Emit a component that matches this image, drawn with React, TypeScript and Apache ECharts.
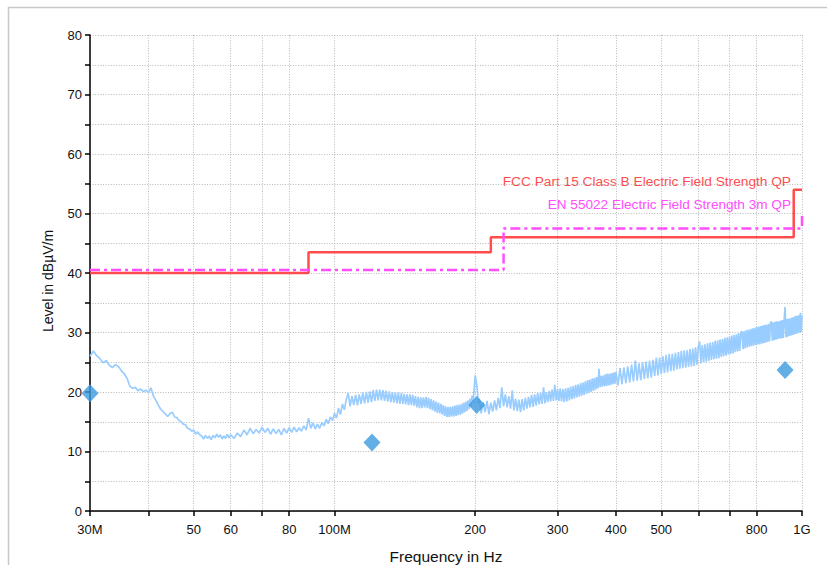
import React, { useEffect, useRef } from "react";
import * as echarts from "echarts";

// ---- Axis ticks / labels (frequencies in MHz) ----
const xTickFreqs = [30, 40, 50, 60, 70, 80, 100, 200, 300, 400, 500, 600, 700, 800, 1000];
const xLabelFreqs = [30, 50, 60, 80, 100, 200, 300, 400, 500, 800, 1000];
const xLabelTexts = ["30M", "50", "60", "80", "100M", "200", "300", "400", "500", "800", "1G"];
const yMin = 0;
const yMax = 80;
const yStep = 5;

// ---- Limit lines: [MHz, dBµV/m] (step after each point) ----
const fccLimit: [number, number][] = [[30, 40], [88, 43.5], [216, 46], [960, 54], [1000, 54]];
const enLimit: [number, number][] = [[30, 40.5], [230, 47.5], [1000, 50]];
const fccName = "FCC Part 15 Class B Electric Field Strength QP";
const enName = "EN 55022 Electric Field Strength 3m QP";

// ---- QP measurement points ----
const qpFreq = [30, 120.3, 201.5, 920];
const qpLevel = [19.8, 11.5, 17.8, 23.7];

// ---- Pre-scan trace [MHz, dBµV/m] ----
const trace30to60: [number, number][] = [
  [30, 26.0], [30.5, 26.9], [31, 26.1], [31.5, 25.6], [32, 24.9], [32.5, 25.3], [33, 24.5], [33.5, 24.1],
  [34, 24.6], [34.5, 24.3], [35, 23.6], [35.5, 23.1], [36, 22.3], [36.5, 21.0], [37, 20.6], [37.5, 20.8],
  [38, 20.2], [38.5, 20.5], [39, 20.1], [39.5, 20.3], [40, 19.9], [40.5, 20.7], [41, 19.3], [41.5, 18.6],
  [42, 17.8], [42.5, 17.1], [43, 16.7], [43.5, 16.3], [44, 15.9], [44.5, 16.4], [45, 16.6], [45.5, 15.8],
  [46, 15.7], [46.5, 15.2], [47, 15.0], [47.5, 14.6], [48, 14.5], [48.5, 13.9], [49, 13.8], [49.5, 13.4],
  [50, 13.6], [50.5, 12.9], [51, 13.3], [51.5, 12.8], [52, 12.6], [52.5, 12.1], [53, 12.7], [53.5, 12.2],
  [54, 12.6], [54.5, 12.0], [55, 12.7], [55.5, 12.3], [56, 12.9], [56.5, 12.4], [57, 12.8], [57.5, 12.1],
  [58, 12.6], [58.5, 12.2], [59, 12.9], [59.5, 12.3], [60, 12.8],
];
const trace60to100: [number, number][] = [
  [61, 12.2], [62, 13.1], [63, 12.5], [64, 13.6], [65, 12.8], [66, 13.9], [67, 13.0], [68, 13.7],
  [69, 13.1], [70, 14.1], [71, 13.2], [72, 13.9], [73, 12.9], [74, 13.8], [75, 13.0], [76, 13.7],
  [77, 12.8], [78, 13.9], [79, 13.1], [80, 14.0], [81, 13.2], [82, 14.1], [83, 13.3], [84, 14.0],
  [85, 13.4], [86, 14.3], [87, 13.6], [88, 15.6], [89, 13.9], [90, 14.8], [91, 13.8], [92, 14.6],
  [93, 13.9], [94, 14.9], [95, 14.3], [96, 15.4], [97, 14.7], [98, 15.8], [99, 15.2], [100, 16.4],
];
const trace100to200: [number, number][] = [
  [101, 15.6], [102, 17.3], [103, 16.2], [104, 18.0], [105, 17.0], [106, 18.8], [107, 19.8], [108, 17.6],
  [109, 19.3], [110, 17.8], [111, 19.5], [112, 17.8], [113, 19.6], [114, 18.0], [115, 19.9], [116, 18.1],
  [117, 20.0], [118, 18.2], [119, 20.1], [120, 18.3], [121, 20.3], [122, 18.5], [123, 20.4], [124, 18.6],
  [125, 20.4], [126, 18.6], [127, 20.3], [128, 18.5], [129, 20.2], [130, 18.4], [131, 20.1], [132, 18.3],
  [133, 20.0], [134, 18.2], [135, 19.9], [136, 18.1], [137, 19.9], [138, 18.0], [139, 19.8], [140, 18.0],
  [141, 19.7], [142, 17.9], [143, 19.6], [144, 17.8], [145, 19.6], [146, 17.8], [147, 19.5], [148, 17.7],
  [149, 19.3], [150, 17.4], [151, 19.2], [152, 17.3], [153, 19.1], [154, 17.3], [155, 19.1], [156, 17.4],
  [157, 19.2], [158, 17.3], [159, 19.0], [160, 17.1], [161, 18.8], [162, 16.9], [163, 18.6], [164, 16.7],
  [165, 18.4], [166, 16.5], [167, 18.2], [168, 16.4], [169, 18.0], [170, 16.2], [171, 17.8], [172, 16.0],
  [173, 17.6], [174, 15.8], [175, 17.5], [176, 15.8], [177, 17.5], [178, 15.9], [179, 17.6], [180, 15.9],
  [181, 17.7], [182, 16.0], [183, 17.8], [184, 16.1], [185, 17.9], [186, 16.2], [187, 18.0], [188, 16.4],
  [189, 18.2], [190, 16.6], [191, 18.4], [192, 16.8], [193, 18.6], [194, 17.1], [195, 18.9], [196, 17.5],
  [197, 19.4], [198, 18.2], [199, 20.6], [200, 22.8],
];
const trace200to400: [number, number][] = [
  [201, 21.8], [202, 20.5], [203, 18.1], [204, 18.9], [206, 16.4], [208, 18.3], [210, 16.6], [212, 18.5],
  [214, 16.3], [216, 18.2], [218, 16.7], [220, 18.6], [222, 16.9], [224, 19.0], [226, 17.3], [228, 20.8],
  [230, 17.6], [232, 19.6], [234, 17.4], [236, 19.3], [238, 17.2], [240, 20.3], [242, 16.9], [244, 18.9],
  [246, 16.8], [248, 18.7], [250, 16.6], [252, 18.8], [254, 16.9], [256, 19.0], [258, 17.2], [260, 19.2],
  [262, 17.4], [264, 19.5], [266, 17.5], [268, 19.6], [270, 17.7], [272, 19.8], [274, 17.9], [276, 19.9],
  [278, 18.0], [280, 20.8], [282, 18.1], [284, 20.0], [286, 18.3], [288, 20.2], [290, 18.4], [292, 20.4],
  [294, 18.5], [296, 21.2], [298, 18.6], [300, 20.5], [302, 18.5], [304, 20.6], [306, 18.4], [308, 20.5],
  [310, 18.3], [312, 20.6], [314, 18.4], [316, 20.7], [318, 18.6], [320, 20.9], [322, 18.8], [324, 21.0],
  [326, 18.9], [328, 21.2], [330, 19.1], [332, 21.3], [334, 19.2], [336, 21.5], [338, 19.4], [340, 21.6],
  [342, 19.5], [344, 21.8], [346, 19.7], [348, 22.0], [350, 19.9], [352, 22.1], [354, 20.0], [356, 22.3],
  [358, 20.2], [360, 22.4], [362, 20.4], [364, 22.5], [366, 20.6], [368, 23.9], [370, 20.8], [372, 22.7],
  [374, 20.9], [376, 22.8], [378, 21.0], [380, 23.0], [382, 21.0], [384, 23.1], [386, 21.1], [388, 23.1],
  [390, 21.2], [392, 23.2], [394, 21.3], [396, 23.3], [398, 21.4], [400, 23.4],
];
const trace400to1000: [number, number][] = [
  [404, 21.1], [408, 24.0], [412, 21.3], [416, 24.1], [420, 21.5], [424, 24.3], [428, 21.6], [432, 24.6],
  [436, 21.8], [440, 25.3], [444, 21.9], [448, 24.8], [452, 22.0], [456, 25.0], [460, 22.2], [464, 25.1],
  [468, 22.3], [472, 25.3], [476, 22.4], [480, 25.4], [484, 22.7], [488, 25.8], [492, 22.8], [496, 25.8],
  [500, 23.0], [504, 26.0], [508, 23.2], [512, 26.2], [516, 23.3], [520, 26.4], [524, 23.5], [528, 26.4],
  [532, 23.6], [536, 26.6], [540, 23.8], [544, 26.7], [548, 23.9], [552, 26.9], [556, 24.0], [560, 27.0],
  [564, 24.1], [568, 27.0], [572, 24.2], [576, 27.2], [580, 24.3], [584, 27.3], [588, 24.4], [592, 27.5],
  [596, 24.6], [600, 27.6], [604, 28.5], [608, 24.8], [612, 27.9], [616, 25.0], [620, 28.0], [624, 25.1],
  [628, 28.2], [632, 25.2], [636, 28.3], [640, 25.4], [644, 28.4], [648, 25.5], [652, 28.6], [656, 25.6],
  [660, 28.7], [664, 25.7], [668, 28.8], [672, 25.9], [676, 28.9], [680, 26.0], [684, 29.1], [688, 26.1],
  [692, 29.2], [696, 26.3], [700, 29.3], [704, 26.4], [708, 29.5], [712, 26.5], [716, 29.6], [720, 26.7],
  [724, 29.7], [728, 26.8], [732, 29.9], [736, 26.9], [740, 30.0], [744, 30.2], [748, 27.2], [752, 30.2],
  [756, 27.3], [760, 30.4], [764, 27.5], [768, 30.5], [772, 27.6], [776, 30.6], [780, 27.7], [784, 30.7],
  [788, 27.8], [792, 30.8], [796, 27.9], [800, 30.9], [804, 28.0], [808, 31.0], [812, 28.0], [816, 31.1],
  [820, 28.1], [824, 31.2], [828, 28.2], [832, 31.3], [836, 28.3], [840, 31.3], [844, 28.4], [848, 31.4],
  [852, 28.5], [856, 31.5], [860, 31.9], [864, 28.6], [868, 31.7], [872, 28.7], [876, 31.8], [880, 28.8],
  [884, 31.9], [888, 28.9], [892, 31.9], [896, 29.0], [900, 32.0], [904, 29.0], [908, 32.1], [912, 29.1],
  [916, 32.1], [920, 34.3], [924, 29.2], [928, 32.3], [932, 29.3], [936, 32.3], [940, 29.4], [944, 32.4],
  [948, 29.5], [952, 32.5], [956, 29.6], [960, 32.6], [964, 29.7], [968, 32.8], [972, 29.8], [976, 32.8],
  [980, 29.9], [984, 32.9], [988, 30.0], [992, 33.3], [996, 30.1], [1000, 32.9],
];

const FONT = "'Liberation Sans', Arial, Helvetica, sans-serif";
const lg = (f: number) => Math.log10(f);

export default function App() {
  const ref = useRef<HTMLDivElement>(null);

  useEffect(() => {
    if (!ref.current) return;
    const chart = echarts.init(ref.current, undefined, { renderer: "svg" });
    const trace = [...trace30to60, ...trace60to100, ...trace100to200, ...trace200to400, ...trace400to1000].map(
      ([f, v]) => [lg(f), v]
    );
    const labelText = (v: number) => {
      for (let i = 0; i < xLabelFreqs.length; i++) {
        if (Math.abs(lg(xLabelFreqs[i]) - v) < 1e-6) return xLabelTexts[i];
      }
      return "";
    };
    const gridLine = { show: true, lineStyle: { color: "#b8b8b8", width: 1, type: [1, 1.6] as any } };

    chart.setOption({
      animation: false,
      backgroundColor: "#ffffff",
      grid: { left: 90, right: 25, top: 35, bottom: 54, containLabel: false, outerBoundsMode: "none" },
      xAxis: {
        type: "value",
        min: lg(30),
        max: lg(1000),
        name: "Frequency in Hz",
        nameLocation: "middle",
        nameGap: 37,
        nameTextStyle: { fontFamily: FONT, fontSize: 15.5, color: "#111" },
        axisLine: { show: true, onZero: false, lineStyle: { color: "#000", width: 1.5 } },
        axisTick: { show: true, length: 5, lineStyle: { color: "#000", width: 1.5 }, customValues: xTickFreqs.map(lg) },
        axisLabel: {
          customValues: xLabelFreqs.map(lg),
          formatter: (v: number) => labelText(v),
          fontFamily: FONT,
          fontSize: 13,
          color: "#111",
          margin: 12,
        },
        splitLine: gridLine,
      },
      yAxis: {
        type: "value",
        min: yMin,
        max: yMax,
        interval: yStep,
        name: "Level in dBµV/m",
        nameLocation: "middle",
        nameGap: 35,
        nameTextStyle: { fontFamily: FONT, fontSize: 14, color: "#111", padding: [0, 16, 0, 0] },
        axisLine: { show: true, lineStyle: { color: "#000", width: 1.5 } },
        axisTick: { show: true, length: 5, lineStyle: { color: "#000", width: 1.5 } },
        axisLabel: {
          formatter: (v: number) => (v % 10 === 0 ? String(v) : ""),
          fontFamily: FONT,
          fontSize: 13,
          color: "#111",
          margin: 8,
        },
        splitLine: gridLine,
      },
      series: [
        {
          type: "line",
          name: "Trace",
          data: trace,
          showSymbol: false,
          symbol: "none",
          lineStyle: { color: "#99ccff", width: 1.7 },
          z: 2,
        },
        {
          type: "line",
          name: fccName,
          data: fccLimit.map(([f, v]) => [lg(f), v]),
          step: "end",
          showSymbol: false,
          symbol: "none",
          lineStyle: { color: "#ff4d4d", width: 2.5 },
          z: 3,
        },
        {
          type: "line",
          name: enName,
          data: enLimit.map(([f, v]) => [lg(f), v]),
          step: "end",
          showSymbol: false,
          symbol: "none",
          lineStyle: { color: "#ff4dff", width: 2.5, type: [10, 4, 3, 4] as any },
          z: 3,
        },
        {
          type: "scatter",
          name: "QP",
          data: qpFreq.map((f, i) => [lg(f), qpLevel[i]]),
          symbol: "diamond",
          symbolSize: [17, 18],
          itemStyle: { color: "#3d9ae0" },
          z: 5,
        },
      ],
      graphic: [
        {
          type: "rect",
          shape: { x: 8.5, y: 7.5, width: 900, height: 700 },
          style: { fill: "none", stroke: "#c8c8c8", lineWidth: 1.5 },
          silent: true,
        },
        {
          type: "text",
          x: 791,
          y: 181,
          style: { text: fccName, fill: "#ff4d4d", font: `13.7px ${FONT}`, textAlign: "right", textVerticalAlign: "middle" },
        },
        {
          type: "text",
          x: 791,
          y: 204,
          style: { text: enName, fill: "#ff4dff", font: `13.6px ${FONT}`, textAlign: "right", textVerticalAlign: "middle" },
        },
      ],
    });
    return () => chart.dispose();
  }, []);

  return <div ref={ref} style={{ position: "fixed", left: 0, top: 0, width: 827, height: 565 }} />;
}
